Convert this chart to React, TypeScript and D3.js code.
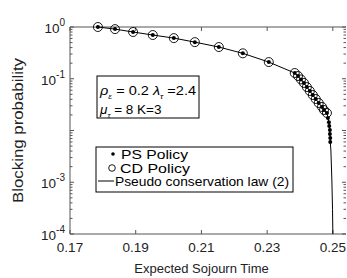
import React from "react";
import * as d3 from "d3";

// CD policy markers (circles): expected sojourn time, blocking probability
const cdTime = [0.1785, 0.1837, 0.1892, 0.1952, 0.2016, 0.208, 0.2153, 0.2226, 0.2305,
  0.2384, 0.2394, 0.2403, 0.2412, 0.2421, 0.243, 0.2439, 0.2448, 0.2457, 0.2467, 0.2473, 0.2482];
const cdBlock = [1.0, 0.91, 0.8, 0.7, 0.61, 0.51, 0.41, 0.31, 0.21,
  0.129, 0.113, 0.097, 0.083, 0.069, 0.058, 0.0485, 0.0406, 0.034, 0.0285, 0.0249, 0.0218];

// PS policy markers (dots): same points plus a tail further down
const psTime = [...cdTime, 0.2485, 0.2488, 0.2489, 0.2491, 0.2491, 0.2492, 0.2492];
const psBlock = [...cdBlock, 0.0175, 0.0145, 0.0122, 0.0102, 0.0086, 0.0072, 0.006];

// pseudo conservation law (2)
const lawTime = [...psTime, 0.2494, 0.2497, 0.2499, 0.25];
const lawBlock = [...psBlock, 0.0042, 0.0011, 0.0003, 0.0001];

const xTicks = [0.17, 0.19, 0.21, 0.23, 0.25];
const yTicks = [1, 0.1, 0.01, 0.001, 0.0001];
const yTickExp = ["0", "-1", "-2", "-3", "-4"];
const yTickShown = [true, true, false, true, true];

const legendLabels = ["PS Policy", "CD Policy", "Pseudo conservation law (2)"];

const W = 347;
const H = 278;
const m = { left: 70, right: 1, top: 27, bottom: 44 };

export default function App() {
  const x = d3.scaleLinear().domain([0.17, 0.254]).range([m.left, W - m.right]);
  const y = d3.scaleLog().domain([1e-4, 1]).range([H - m.bottom, m.top]);
  const x0 = m.left, x1 = W - m.right, y0 = H - m.bottom, y1 = m.top;

  const lawPts = lawTime.map((t, i) => [t, lawBlock[i]] as [number, number]);
  const line = d3.line<[number, number]>().x((d) => x(d[0])).y((d) => y(d[1]));

  const minor: number[] = [];
  for (let e = -4; e < 0; e++) for (let k = 2; k < 10; k++) minor.push(k * Math.pow(10, e));

  const font = "'Liberation Sans', Arial, Helvetica, sans-serif";
  const axisCol = "#555";

  return (
    <svg width={W} height={H} style={{ position: "absolute", left: 0, top: 0 }} fontFamily={font}>
      <rect width={W} height={H} fill="#fff" />
      {/* axes frame */}
      <line x1={x0} x2={x1} y1={y0} y2={y0} stroke={axisCol} />
      <line x1={x0} x2={x1} y1={y1} y2={y1} stroke={axisCol} />
      <line x1={x0} x2={x0} y1={y0} y2={y1} stroke={axisCol} />

      {/* x ticks */}
      {xTicks.map((t) => (
        <g key={t}>
          <line x1={x(t)} x2={x(t)} y1={y0} y2={y0 - 4} stroke={axisCol} />
          <line x1={x(t)} x2={x(t)} y1={y1} y2={y1 + 4} stroke={axisCol} />
          <text x={x(t)} y={y0 + 18} fontSize={13.5} textAnchor="middle" fill="#222">
            {t.toFixed(2)}
          </text>
        </g>
      ))}

      {/* y ticks */}
      {yTicks.map((t, i) => (
        <g key={t}>
          <line x1={x0} x2={x0 + 4} y1={y(t)} y2={y(t)} stroke={axisCol} />
          <line x1={x1} x2={x1 - 4} y1={y(t)} y2={y(t)} stroke={axisCol} />
          {yTickShown[i] && (
            <text x={x0 - 5} y={y(t) + 6} fontSize={13.5} textAnchor="end" fill="#222">
              10
              <tspan dy={-7} fontSize={10}>{yTickExp[i]}</tspan>
            </text>
          )}
        </g>
      ))}
      {minor.map((t) => (
        <g key={"m" + t}>
          <line x1={x0} x2={x0 + 2.5} y1={y(t)} y2={y(t)} stroke={axisCol} />
          <line x1={x1} x2={x1 - 2.5} y1={y(t)} y2={y(t)} stroke={axisCol} />
        </g>
      ))}

      {/* axis labels */}
      <text x={(x0 + 333) / 2} y={H - 5} fontSize={13} textAnchor="middle" fill="#222">
        Expected Sojourn Time
      </text>
      <text
        transform={`translate(23, ${(y0 + y1) / 2}) rotate(-90)`}
        fontSize={14}
        textAnchor="middle"
        fill="#222"
        textLength={145}
        lengthAdjust="spacingAndGlyphs"
      >
        Blocking probability
      </text>

      {/* pseudo conservation law */}
      <path d={line(lawPts) || ""} fill="none" stroke="#000" strokeWidth={1} />

      {/* CD policy circles */}
      {cdTime.map((t, i) => (
        <circle key={"c" + i} cx={x(t)} cy={y(cdBlock[i])} r={4.5} fill="none" stroke="#000" strokeWidth={0.9} />
      ))}
      {/* PS policy dots */}
      {psTime.map((t, i) => (
        <circle key={"p" + i} cx={x(t)} cy={y(psBlock[i])} r={2} fill="#000" />
      ))}

      {/* parameter box */}
      <rect x={97} y={76} width={102} height={42} fill="#fff" stroke="#000" strokeWidth={1} />
      <text x={100} y={95} fontSize={13.5} fill="#000" textLength={96} lengthAdjust="spacingAndGlyphs">
        <tspan fontStyle="italic">ρ</tspan>
        <tspan dy={4} fontSize={8} fontStyle="italic">ε</tspan>
        <tspan dy={-4}> = 0.2  </tspan>
        <tspan fontStyle="italic">λ</tspan>
        <tspan dy={4} fontSize={8} fontStyle="italic">τ</tspan>
        <tspan dy={-4}> =2.4</tspan>
      </text>
      <text x={100} y={114} fontSize={13.5} fill="#000">
        <tspan fontStyle="italic">μ</tspan>
        <tspan dy={4} fontSize={8} fontStyle="italic">τ</tspan>
        <tspan dy={-4}> = 8  K=3</tspan>
      </text>

      {/* legend */}
      <rect x={96} y={147} width={197} height={45} fill="#fff" stroke="#000" strokeWidth={1} />
      <circle cx={113} cy={154} r={1.8} fill="#000" />
      <circle cx={112} cy={168} r={3.3} fill="none" stroke="#000" strokeWidth={0.9} />
      <line x1={98} x2={114} y1={181} y2={181} stroke="#000" />
      <text x={121} y={158.5} fontSize={13.5} fill="#000" textLength={67} lengthAdjust="spacingAndGlyphs">
        {legendLabels[0]}
      </text>
      <text x={120} y={172.5} fontSize={13.5} fill="#000" textLength={70} lengthAdjust="spacingAndGlyphs">
        {legendLabels[1]}
      </text>
      <text x={115} y={186} fontSize={13.5} fill="#000" textLength={174} lengthAdjust="spacingAndGlyphs">
        {legendLabels[2]}
      </text>
    </svg>
  );
}
